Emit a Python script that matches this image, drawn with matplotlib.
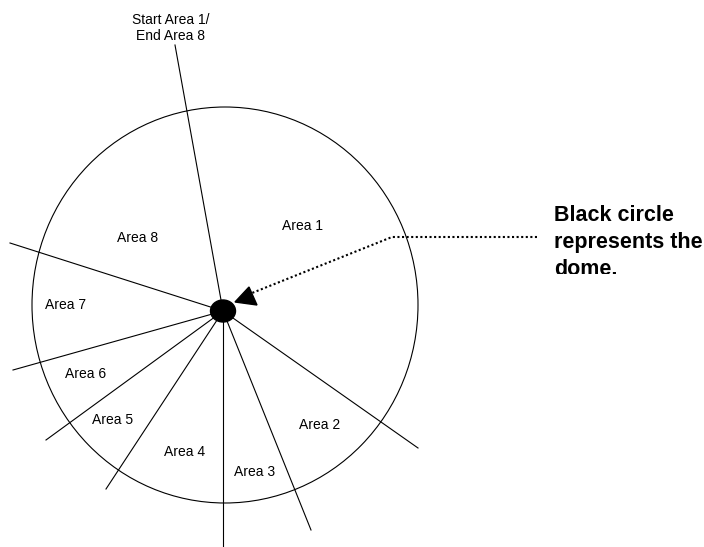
import matplotlib.pyplot as plt
from matplotlib.patches import Ellipse, Polygon
from matplotlib.transforms import Bbox

plt.rcParams['font.family'] = ['Liberation Sans', 'DejaVu Sans']

# geometry in pixel space (y grows downward)
dome_center = (223, 311)
circle_center = (225, 305)
circle_size = (386, 396)

spoke_x = [175, 10, 13, 46, 106, 223, 311, 418]
spoke_y = [45, 243, 370, 440, 489, 547, 530, 448]

area_names = ['Area 1', 'Area 2', 'Area 3', 'Area 4',
              'Area 5', 'Area 6', 'Area 7', 'Area 8']
label_x = [302, 320, 255, 185, 113, 86, 66, 138]
label_y = [226, 425, 472, 452, 420, 374, 305, 238]

pointer_x = [537, 392, 252]
pointer_y = [237, 237, 293]

fig = plt.figure(figsize=(7.04, 5.47), dpi=100)
ax = fig.add_axes([0, 0, 1, 1])
ax.set_xlim(0, 704)
ax.set_ylim(547, 0)
ax.axis('off')

ax.add_patch(Ellipse(circle_center, circle_size[0], circle_size[1],
                     fill=False, ec='black', lw=0.8))

for x, y in zip(spoke_x, spoke_y):
    ax.plot([dome_center[0], x], [dome_center[1], y], color='black', lw=0.8)

ax.add_patch(Ellipse(dome_center, 25, 22, color='black', zorder=5))

for name, x, y in zip(area_names, label_x, label_y):
    ax.text(x, y, name, fontsize=10, ha='center', va='center')

ax.text(171, 28, 'Start Area 1/\nEnd Area 8', fontsize=10,
        ha='center', va='center', linespacing=1.25)

# dotted pointer with arrow head
ax.plot(pointer_x, pointer_y, color='black', lw=1.5, ls=(0, (1, 1.2)))
ax.add_patch(Polygon([(235, 302), (249, 287), (257, 305)],
                     closed=True, color='black'))

# baseline of the last line; the bottom of "dome." is cut off as in the source
t = ax.text(554, 275, 'Black circle\nrepresents the\ndome.', fontsize=15.5,
            fontweight='bold', ha='left', va='baseline', linespacing=1.36)
t.set_clip_box(Bbox.from_extents(0, 547 - 273.5, 704, 547))
t.set_clip_on(True)

fig.savefig('out.png', dpi=100)
